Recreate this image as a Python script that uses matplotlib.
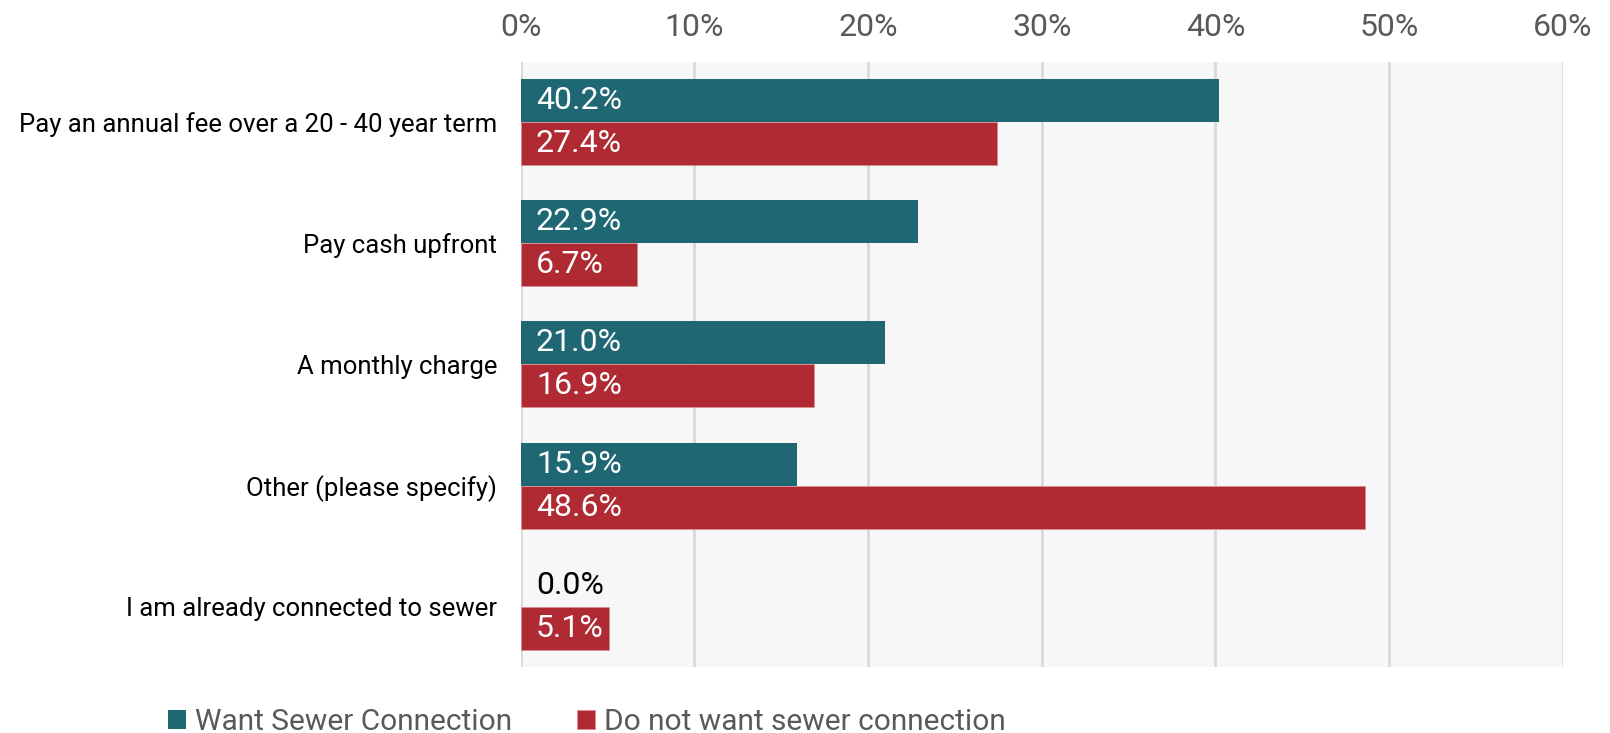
import matplotlib
matplotlib.use("Agg")
import matplotlib.pyplot as plt
import numpy as np

categories = ["Pay an annual fee over a 20 - 40 year term", "Pay cash upfront",
              "A monthly charge", "Other (please specify)", "I am already connected to sewer"]
want = [40.2, 22.9, 21.0, 15.9, 0.0]
not_want = [27.4, 6.7, 16.9, 48.6, 5.1]
series_names = ["Want Sewer Connection", "Do not want sewer connection"]
xticks = [0, 10, 20, 30, 40, 50, 60]

TEAL = "#1F6873"
RED = "#AF2A33"
FONT = "Roboto"
plt.rcParams['font.family'] = [FONT, 'DejaVu Sans']

fig = plt.figure(figsize=(16.1, 7.33), dpi=100)
ax = fig.add_axes([0.3234, 0.0895, 0.6473, 0.8265])
ax.set_facecolor("#F7F7F7")

y = np.arange(len(categories))
h = 0.355
b1 = ax.barh(y - h/2, want, height=h, color=TEAL, linewidth=0, zorder=3,
             label=series_names[0])
b2 = ax.barh(y + h/2, not_want, height=h, color=RED, edgecolor="#DB8E94", linewidth=0.6, zorder=3,
             label=series_names[1])

for yi, v in zip(y - h/2, want):
    ax.annotate(f"{v:.1f}%", xy=(0, yi), xytext=(11, 0), textcoords="offset points",
                va="center", ha="left", fontsize=23,
                color="white" if v > 3 else "black", zorder=4)
for yi, v in zip(y + h/2, not_want):
    ax.annotate(f"{v:.1f}%", xy=(0, yi), xytext=(11, 0), textcoords="offset points",
                va="center", ha="left", fontsize=23,
                color="white" if v > 3 else "black", zorder=4)

ax.set_xlim(0, 60)
ax.set_ylim(4.5, -0.5)
ax.set_xticks(xticks)
ax.set_xticklabels([f"{t}%" for t in xticks], fontsize=23, color="#595959")
ax.xaxis.tick_top()
ax.tick_params(axis="x", length=0, pad=14)
ax.set_yticks(y)
ax.set_yticklabels(categories, fontsize=18.5, color="black")
ax.tick_params(axis="y", length=0, pad=17)
ax.grid(axis="x", color="#D9D9D9", linewidth=2, zorder=0)
for s in ax.spines.values():
    s.set_visible(False)

leg = fig.legend(handles=[b1, b2], labels=series_names, loc="center", bbox_to_anchor=(0.3645, 0.015),
                 ncol=2, frameon=False, fontsize=21.5, handlelength=0.6, handleheight=0.6,
                 handletextpad=0.3, columnspacing=2.2, borderaxespad=0)
for t in leg.get_texts():
    t.set_color("#595959")

fig.savefig("out.png", dpi=100)
